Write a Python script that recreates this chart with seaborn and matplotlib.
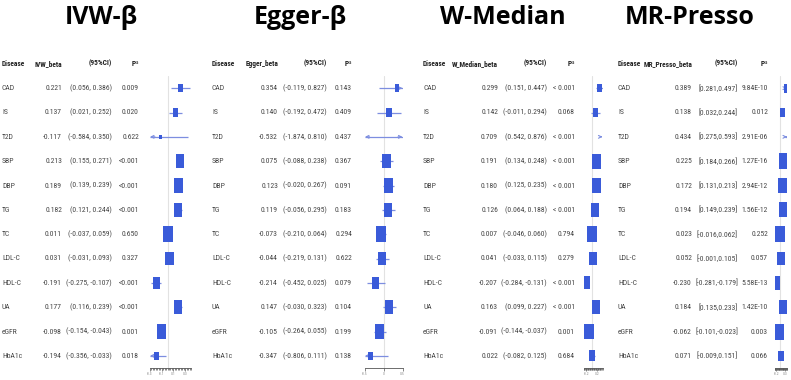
import numpy as np
import pandas as pd
import seaborn as sns
import matplotlib.pyplot as plt
from matplotlib import font_manager as fm
from matplotlib.font_manager import FontProperties
from matplotlib.path import Path
from matplotlib.textpath import TextToPath
from matplotlib.ticker import MultipleLocator
from matplotlib.transforms import blended_transform_factory

"""
Data
"""
diseases = ['CAD', 'IS', 'T2D', 'SBP', 'DBP', 'TG', 'TC', 'LDL-C', 'HDL-C', 'UA', 'eGFR', 'HbA1c']

ivw_beta = [0.221, 0.137, -0.117, 0.213, 0.189, 0.182, 0.011, 0.031, -0.191, 0.177, -0.098, -0.194]
ivw_lo = [0.056, 0.021, -0.584, 0.155, 0.139, 0.121, -0.037, -0.031, -0.275, 0.116, -0.154, -0.356]
ivw_hi = [0.386, 0.252, 0.350, 0.271, 0.239, 0.244, 0.059, 0.093, -0.107, 0.239, -0.043, -0.033]
ivw_p = ['0.009', '0.020', '0.622', '<0.001', '<0.001', '<0.001', '0.650', '0.327', '<0.001', '<0.001', '0.001', '0.018']

egger_beta = [0.354, 0.140, -0.532, 0.075, 0.123, 0.119, -0.073, -0.044, -0.214, 0.147, -0.105, -0.347]
egger_lo = [-0.119, -0.192, -1.874, -0.088, -0.020, -0.056, -0.210, -0.219, -0.452, -0.030, -0.264, -0.806]
egger_hi = [0.827, 0.472, 0.810, 0.238, 0.267, 0.295, 0.064, 0.131, 0.025, 0.323, 0.055, 0.111]
egger_p = ['0.143', '0.409', '0.437', '0.367', '0.091', '0.183', '0.294', '0.622', '0.079', '0.104', '0.199', '0.138']

wm_beta = [0.299, 0.142, 0.709, 0.191, 0.180, 0.126, 0.007, 0.041, -0.207, 0.163, -0.091, 0.022]
wm_lo = [0.151, -0.011, 0.542, 0.134, 0.125, 0.064, -0.046, -0.033, -0.284, 0.099, -0.144, -0.082]
wm_hi = [0.447, 0.294, 0.876, 0.248, 0.235, 0.188, 0.060, 0.115, -0.131, 0.227, -0.037, 0.125]
wm_p = ['< 0.001', '0.068', '< 0.001', '< 0.001', '< 0.001', '< 0.001', '0.794', '0.279', '< 0.001', '< 0.001', '0.001', '0.684']

presso_beta = [0.389, 0.138, 0.434, 0.225, 0.172, 0.194, 0.023, 0.052, -0.230, 0.184, -0.062, 0.071]
presso_lo = [0.281, 0.032, 0.275, 0.184, 0.131, 0.149, -0.016, -0.001, -0.281, 0.135, -0.101, -0.009]
presso_hi = [0.497, 0.244, 0.593, 0.266, 0.213, 0.239, 0.062, 0.105, -0.179, 0.233, -0.023, 0.151]
presso_p = ['9.84E-10', '0.012', '2.91E-06', '1.27E-16', '2.94E-12', '1.56E-12', '0.252', '0.057', '5.58E-13', '1.42E-10', '0.003', '0.066']

"""
Layout of the four panels (pixel positions in a 791 x 380 figure)
"""
W, H = 791, 380
panels = [
    dict(title='IVW-\u03b2', head='IVW_beta', beta=ivw_beta, lo=ivw_lo, hi=ivw_hi, p=ivw_p,
         ci_fmt='({:.3f}, {:.3f})', title_x=101, cols=(2, 62, 112, 139), ax_x=(150, 191),
         xlim=(-0.3, 0.4), ticks=[-0.3, -0.1, 0.1, 0.3], minor=0.025),
    dict(title='Egger-\u03b2', head='Egger_beta', beta=egger_beta, lo=egger_lo, hi=egger_hi, p=egger_p,
         ci_fmt='({:.3f}, {:.3f})', title_x=300, cols=(212, 278, 327, 352), ax_x=(365, 402.5),
         xlim=(-0.5, 0.5), ticks=[-0.5, 0, 0.5], minor=None),
    dict(title='W-Median', head='W_Median_beta', beta=wm_beta, lo=wm_lo, hi=wm_hi, p=wm_p,
         ci_fmt='({:.3f}, {:.3f})', title_x=503, cols=(423, 498, 547, 575), ax_x=(583.5, 602.5),
         xlim=(-0.3, 0.4), ticks=[-0.2, 0.2], minor=0.025),
    dict(title='MR-Presso', head='MR_Presso_beta', beta=presso_beta, lo=presso_lo, hi=presso_hi, p=presso_p,
         ci_fmt='[{:.3f},{:.3f}]', title_x=690, cols=(618, 692, 738, 768), ax_x=(774.5, 787),
         xlim=(-0.3, 0.4), ticks=[-0.2, 0.3], minor=0.025),
]

BOX = '#3A5BD9'
LINE = '#7D8EE0'
TXT = '#454545'

sns.set_style('white')

"""
Pick a narrow font if one is installed, and size the table text so it fits the columns
"""
ttflist = fm.fontManager.ttflist
names = {f.name for f in ttflist}
family, stretch = 'Liberation Sans', 'normal'
for cand in ['Liberation Sans Narrow', 'Arial Narrow', 'Roboto Condensed', 'Noto Sans Condensed',
             'Open Sans Condensed', 'Noto Sans SemiCondensed']:
    if cand in names:
        family = cand
        break
else:
    for fam in ['Noto Sans', 'Roboto', 'Open Sans']:
        if any(f.name == fam and str(f.stretch) in ('condensed', 'extra-condensed', 'semi-condensed')
               for f in ttflist):
            family, stretch = fam, 'condensed'
            break

plt.rcParams['font.family'] = [family, 'DejaVu Sans']
plt.rcParams['mathtext.fontset'] = 'custom'
plt.rcParams['mathtext.rm'] = family
plt.rcParams['mathtext.bf'] = family + ':bold'

ttp = TextToPath()


def text_px(s, prop):
    w, h, d = ttp.get_text_width_height_descent(s, prop, ismath=False)
    return w * 100 / 72


probe = FontProperties(family=family, stretch=stretch, size=10)
row_size = min(6.6, 10 * 44 / text_px('(-0.584, 0.350)', probe))
probe_b = FontProperties(family=family, stretch=stretch, weight='bold', size=10)
head_size = min(6.6, 10 * 49 / text_px('MR_Presso_beta', probe_b))
row_fp = FontProperties(family=family, stretch=stretch, size=row_size)
head_fp = FontProperties(family=family, stretch=stretch, weight='bold', size=head_size)

# tall rectangle marker for the forest boxes
box_marker = Path([(-0.3, -0.5), (0.3, -0.5), (0.3, 0.5), (-0.3, 0.5), (-0.3, -0.5)],
                  [Path.MOVETO, Path.LINETO, Path.LINETO, Path.LINETO, Path.CLOSEPOLY])

fig = plt.figure(figsize=(W / 100, H / 100), dpi=100)
top_px, bot_px = 76, 368
rows = np.arange(len(diseases))

for pn in panels:
    x0, x1 = pn['ax_x']
    ax = fig.add_axes([x0 / W, 1 - bot_px / H, (x1 - x0) / W, (bot_px - top_px) / H])
    beta = np.array(pn['beta'])
    lo = np.array(pn['lo'])
    hi = np.array(pn['hi'])
    xmin, xmax = pn['xlim']

    # zero line
    ax.axvline(0, color='#e2e2e2', lw=0.8, zorder=0)

    # confidence intervals, clipped to the axis with arrows
    lo_c = np.clip(lo, xmin, xmax)
    hi_c = np.clip(hi, xmin, xmax)
    ax.hlines(rows, lo_c, hi_c, color=LINE, lw=0.9, zorder=1)
    span = xmax - xmin
    for i in rows:
        if lo[i] < xmin:
            ax.annotate('', xy=(xmin, i), xytext=(xmin + 0.12 * span, i),
                        arrowprops=dict(arrowstyle='->', color=LINE, lw=0.8,
                                        mutation_scale=5, shrinkA=0, shrinkB=0))
        if hi[i] > xmax:
            ax.annotate('', xy=(xmax, i), xytext=(xmax - 0.12 * span, i),
                        arrowprops=dict(arrowstyle='->', color=LINE, lw=0.8,
                                        mutation_scale=5, shrinkA=0, shrinkB=0))

    # boxes sized by precision
    width = hi - lo
    h_pt = 0.72 * 16 * (width.min() / width) ** 0.6
    df = pd.DataFrame({'beta': beta, 'row': rows, 's': h_pt ** 2})
    df = df[(df.beta >= xmin) & (df.beta <= xmax)]
    sns.scatterplot(data=df, x='beta', y='row', size='s',
                    sizes=(df.s.min(), df.s.max()), size_norm=(df.s.min(), df.s.max()),
                    marker=box_marker, color=BOX, linewidth=0, legend=False, ax=ax, zorder=3)

    ax.set_xlim(xmin, xmax)
    ax.set_ylim(len(diseases) - 0.5, -0.5)
    ax.set_xlabel('')
    ax.set_ylabel('')
    ax.set_yticks([])
    ax.set_xticks(pn['ticks'])
    ax.set_xticklabels([f'{t:g}' for t in pn['ticks']], fontsize=2.6, color='#777777')
    if pn['minor']:
        ax.xaxis.set_minor_locator(MultipleLocator(pn['minor']))
    ax.tick_params(axis='x', which='both', direction='out', length=2, width=0.5,
                   pad=1, colors='#555555', labelcolor='#888888', bottom=True)
    ax.tick_params(axis='x', which='minor', length=1.5)
    for side in ['top', 'left', 'right']:
        ax.spines[side].set_visible(False)
    ax.spines['bottom'].set_color('#555555')
    ax.spines['bottom'].set_linewidth(0.6)
    ax.patch.set_alpha(0)

    # table text
    tr = blended_transform_factory(fig.transFigure, ax.transData)
    cx = [c / W for c in pn['cols']]
    hkw = dict(transform=tr, fontproperties=head_fp, color='#222222', va='center')
    fig.text(cx[0], -1, 'Disease', ha='left', **hkw)
    fig.text(cx[1], -1, pn['head'], ha='right', **hkw)
    fig.text(cx[2], -1, '(95%CI)', ha='right', **hkw)
    fig.text(cx[3], -1, r'P$^{\mathrm{a}}$', ha='right', **hkw)
    rkw = dict(transform=tr, fontproperties=row_fp, color=TXT, va='center')
    for i, d in enumerate(diseases):
        fig.text(cx[0], i, d, ha='left', **rkw)
        fig.text(cx[1], i, f'{beta[i]:.3f}', ha='right', **rkw)
        fig.text(cx[2], i, pn['ci_fmt'].format(lo[i], hi[i]), ha='right', **rkw)
        fig.text(cx[3], i, pn['p'][i], ha='right', **rkw)

    fig.text(pn['title_x'] / W, 1 - 18 / H, pn['title'], ha='center', va='center',
             fontsize=18, fontweight='bold', family=['Open Sans', 'DejaVu Sans'], color='black')

fig.savefig('out.png', dpi=100)
